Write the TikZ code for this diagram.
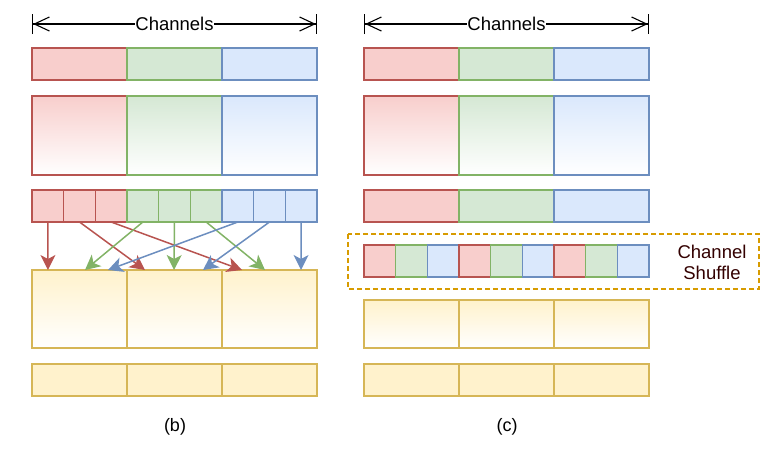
\documentclass[tikz,border=0pt]{standalone}
\usepackage{fontspec}
\setmainfont{Liberation Sans}
\usetikzlibrary{arrows.meta,calc}
\definecolor{strokeR}{HTML}{B85450}
\definecolor{fillR}{HTML}{F8CECC}
\definecolor{strokeG}{HTML}{82B366}
\definecolor{fillG}{HTML}{D5E8D4}
\definecolor{strokeB}{HTML}{6C8EBF}
\definecolor{fillB}{HTML}{DAE8FC}
\definecolor{strokeY}{HTML}{D6B656}
\definecolor{fillY}{HTML}{FFF2CC}
\definecolor{strokeO}{HTML}{D79B00}
\definecolor{textD}{HTML}{330000}
\tikzstyle{cell} = [draw, anchor=north west, inner sep=0pt, outer sep=0pt,
    line width=1.3pt, minimum height=32pt]
\tikzstyle{wide-cell} = [cell, minimum width=95pt]
\tikzstyle{thin-cell} = [cell, minimum width=95pt/3]
\tikzset{flow/.style={line width=1.5pt, arrows={-Stealth[length=15pt,width=15pt,inset=4pt]}}}
\tikzset{span-arrow/.style={line width=1.1pt,
    arrows={Bar[width=20pt,sep=0pt]Straight Barb[length=15pt,width=14pt,sep=0pt]-Straight Barb[length=15pt,width=14pt,sep=0pt]Bar[width=20pt,sep=0pt]}}}
\tikzstyle{span-label} = [fill=white, inner sep=0.5pt, font=\fontsize{18.5}{22}\selectfont]
\tikzstyle{caption} = [font=\fontsize{18}{22}\selectfont]

\begin{document}
\begin{tikzpicture}[x=1pt, y=-1pt]
\useasboundingbox (0,0) rectangle (777,448);

\foreach \p/\ox in {L/32, R/364} {
    \coordinate (\p chA) at (\ox,24);
    \coordinate (\p chB) at (\ox+285,24);
    \draw[span-arrow] (\p chA) -- node[span-label] (\p chT) {Channels} (\p chB);
    \foreach \k [count=\i from 0] in {R,G,B} {
        \node[wide-cell, draw=stroke\k, fill=fill\k] (\p one\k) at ({\ox+95*\i},48) {};
        \node[wide-cell, draw=stroke\k, top color=fill\k, bottom color=white,
            minimum height=79pt] (\p two\k) at ({\ox+95*\i},96) {};
        \node[wide-cell, draw=strokeY, fill=fillY] (\p low\i) at ({\ox+95*\i},364) {};
    }
}

\foreach \k [count=\i from 0] in {R,R,R,G,G,G,B,B,B}
    \node[thin-cell, draw=stroke\k, fill=fill\k] (Lsplit\i) at ({32+95/3*\i},190) {};
\foreach \i in {0,1,2}
    \node[wide-cell, draw=strokeY, top color=fillY, bottom color=white,
        minimum height=78pt] (Lmix\i) at ({32+95*\i},270) {};

\foreach \s/\b/\dx in {0/0/16, 1/1/18, 2/2/20, 3/0/53, 4/1/47, 5/2/43, 6/0/76, 7/1/76, 8/2/79}
    \coordinate (tgt\s) at ($(Lmix\b.north west)+(\dx,0)$);
\foreach \s/\k in {0/R, 1/R, 2/R, 3/G, 4/G, 5/G, 6/B, 7/B, 8/B}
    \draw[flow, draw=stroke\k, fill=stroke\k] (Lsplit\s.south) -- (tgt\s);

\foreach \k [count=\i from 0] in {R,G,B}
    \node[wide-cell, draw=stroke\k, fill=fill\k] (Rthree\k) at ({364+95*\i},190) {};
\foreach \k [count=\i from 0] in {R,G,B,R,G,B,R,G,B}
    \node[thin-cell, draw=stroke\k, fill=fill\k] (Rshuf\i) at ({364+95/3*\i},245) {};
\foreach \i in {0,1,2}
    \node[wide-cell, draw=strokeY, top color=fillY, bottom color=white,
        minimum height=48pt] (Rmix\i) at ({364+95*\i},300) {};

\draw[strokeO, line width=1.3pt, dash pattern=on 5pt off 3pt] (348,234) rectangle (759,289);
\node[align=center, text=textD, font=\fontsize{18.5}{21}\selectfont] (shufT) at (712,262) {Channel\\Shuffle};

\node[caption] (capB) at (175,427) {(b)};
\node[caption] (capC) at (507,427) {(c)};
\end{tikzpicture}
\end{document}
